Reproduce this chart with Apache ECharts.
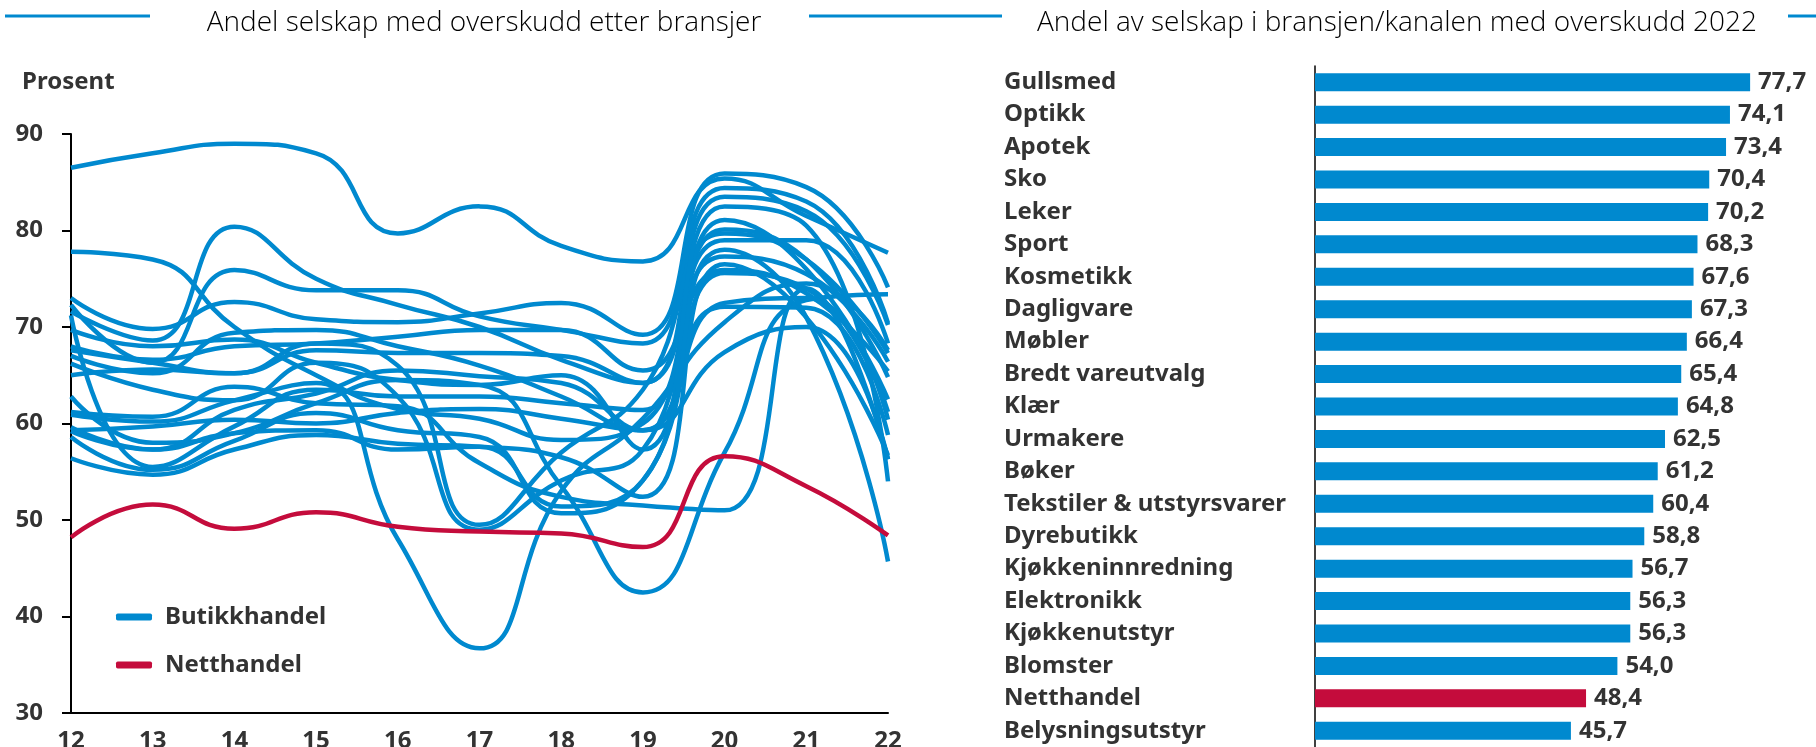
<!DOCTYPE html>
<html>
<head>
<meta charset="utf-8">
<script src="https://cdn.jsdelivr.net/npm/echarts@6/dist/echarts.min.js"></script>
<style>
  html, body { margin: 0; padding: 0; background: #fff; }
  #chart-container { width: 1816px; height: 747px; }
</style>
</head>
<body>
<div id="chart-container"></div>
<script>
// år (x-akse venstre figur)
var years = ['12', '13', '14', '15', '16', '17', '18', '19', '20', '21', '22'];

// andel selskap med overskudd, butikkhandel per bransje 2012-2022
var gullsmed = [86.5, 88.0, 89.0, 88.0, 79.7, 82.5, 78.4, 76.8, 85.4, 81.5, 77.7];
var optikk = [73.0, 69.8, 72.6, 70.8, 70.5, 71.4, 72.5, 69.2, 85.9, 84.5, 74.1];
var apotek = [62.8, 58.0, 59.0, 62.1, 64.5, 64.0, 53.5, 42.5, 57.0, 72.8, 73.4];
var sko = [72.3, 66.3, 75.9, 73.8, 73.8, 71.1, 69.7, 68.3, 84.4, 83.0, 70.4];
var leker = [71.6, 68.6, 80.4, 75.0, 72.3, 70.0, 66.6, 64.2, 83.5, 82.0, 70.2];
var sport = [77.8, 77.0, 70.0, 65.0, 61.5, 60.5, 58.3, 60.0, 79.0, 79.0, 68.3];
var kosmetikk = [60.9, 60.2, 62.4, 64.2, 48.0, 36.7, 53.0, 60.5, 70.5, 74.5, 67.6];
var dagligvare = [67.6, 66.3, 65.2, 68.3, 66.0, 49.5, 57.0, 63.5, 79.7, 77.0, 67.3];
var mobler = [66.2, 63.5, 62.4, 66.3, 62.8, 49.0, 54.1, 57.3, 77.3, 75.5, 66.4];
var bredtVareutvalg = [68.0, 66.6, 68.0, 68.3, 69.0, 69.7, 69.7, 65.5, 75.9, 73.5, 65.4];
var klaer = [65.0, 65.6, 65.2, 67.6, 67.3, 67.3, 67.0, 64.2, 80.1, 77.0, 64.8];
var urmakere = [71.2, 55.5, 59.7, 63.5, 62.8, 62.8, 62.1, 61.4, 81.1, 76.0, 62.5];
var boker = [59.3, 59.7, 60.4, 60.0, 61.1, 61.5, 60.5, 59.3, 75.6, 74.0, 61.2];
var tekstiler = [59.6, 57.3, 61.4, 63.1, 65.5, 64.9, 64.2, 59.3, 72.5, 73.0, 60.4];
var dyrebutikk = [58.6, 55.2, 58.2, 61.1, 59.3, 58.6, 50.7, 54.1, 72.1, 72.0, 58.8];
var kjokkeninnredning = [56.4, 54.7, 57.3, 58.8, 57.9, 57.6, 56.5, 52.4, 76.5, 71.0, 56.7];
var elektronikk = [61.2, 60.7, 63.8, 62.1, 61.8, 55.9, 52.4, 51.5, 51.0, 74.0, 56.3];
var kjokkenutstyr = [67.0, 65.2, 69.4, 69.7, 68.0, 66.0, 62.8, 59.3, 67.4, 70.0, 56.3];
var blomster = [69.7, 68.0, 68.7, 66.3, 64.5, 64.0, 65.0, 57.3, 82.5, 80.5, 54.0];
var belysning = [59.2, 57.3, 59.0, 59.3, 57.3, 57.6, 51.4, 54.1, 78.0, 71.0, 45.7];

// netthandel
var netthandel = [48.2, 51.6, 49.1, 50.8, 49.3, 48.8, 48.6, 47.2, 56.6, 53.5, 48.4];

// høyre figur: 2022
var bransjer = ['Gullsmed', 'Optikk', 'Apotek', 'Sko', 'Leker', 'Sport', 'Kosmetikk',
  'Dagligvare', 'Møbler', 'Bredt vareutvalg', 'Klær', 'Urmakere', 'Bøker',
  'Tekstiler & utstyrsvarer', 'Dyrebutikk', 'Kjøkkeninnredning', 'Elektronikk',
  'Kjøkkenutstyr', 'Blomster', 'Netthandel', 'Belysningsutstyr'];
var andel2022 = [77.7, 74.1, 73.4, 70.4, 70.2, 68.3, 67.6, 67.3, 66.4, 65.4, 64.8,
  62.5, 61.2, 60.4, 58.8, 56.7, 56.3, 56.3, 54.0, 48.4, 45.7];

var yTicks = [30, 40, 50, 60, 70, 80, 90];

var blue = '#0089CF';
var red = '#C40C3C';
var textCol = '#333333';
var font = 'Noto Sans';

var butikk = [gullsmed, optikk, apotek, sko, leker, sport, kosmetikk, dagligvare,
  mobler, bredtVareutvalg, klaer, urmakere, boker, tekstiler, dyrebutikk,
  kjokkeninnredning, elektronikk, kjokkenutstyr, blomster, belysning];

var dom = document.getElementById('chart-container');
var myChart = echarts.init(dom, null, { renderer: 'canvas' });

var series = butikk.map(function (d) {
  return {
    name: 'Butikkhandel',
    type: 'line',
    xAxisIndex: 0,
    yAxisIndex: 0,
    data: d,
    smooth: true,
    symbol: 'none',
    lineStyle: { color: blue, width: 4.5 },
    itemStyle: { color: blue },
    silent: true
  };
});
series.push({
  name: 'Netthandel',
  type: 'line',
  xAxisIndex: 0,
  yAxisIndex: 0,
  data: netthandel,
  smooth: true,
  symbol: 'none',
  lineStyle: { color: red, width: 4.5 },
  itemStyle: { color: red },
  silent: true
});
series.push({
  type: 'bar',
  xAxisIndex: 1,
  yAxisIndex: 1,
  barWidth: 18,
  data: andel2022.map(function (v, i) {
    return {
      value: v,
      itemStyle: { color: bransjer[i] === 'Netthandel' ? red : blue }
    };
  }),
  label: {
    show: true,
    position: 'right',
    distance: 8,
    color: textCol,
    fontFamily: font,
    fontWeight: 'bold',
    fontSize: 24,
    formatter: function (p) { return p.value.toFixed(1).replace('.', ','); }
  },
  silent: true
});

var option = {
  animation: false,
  backgroundColor: '#fff',
  title: [
    {
      text: 'Andel selskap med overskudd etter bransjer',
      left: 479, top: 4, textAlign: 'center',
      textStyle: { fontFamily: 'Open Sans', fontWeight: 300, fontSize: 28, color: '#000' }
    },
    {
      text: 'Andel av selskap i bransjen/kanalen med overskudd 2022',
      left: 1392, top: 4, textAlign: 'center',
      textStyle: { fontFamily: 'Open Sans', fontWeight: 300, fontSize: 28, color: '#000' }
    }
  ],
  graphic: [
    { type: 'line', shape: { x1: 5, y1: 16, x2: 150, y2: 16 }, style: { stroke: blue, lineWidth: 3 } },
    { type: 'line', shape: { x1: 809, y1: 16, x2: 1002, y2: 16 }, style: { stroke: blue, lineWidth: 3 } },
    { type: 'line', shape: { x1: 1788, y1: 16, x2: 1816, y2: 16 }, style: { stroke: blue, lineWidth: 3 } }
  ],
  legend: {
    data: ['Butikkhandel', 'Netthandel'],
    orient: 'vertical',
    left: 116,
    top: 604,
    padding: 0,
    icon: 'roundRect',
    itemWidth: 36,
    itemHeight: 7,
    itemGap: 22,
    selectedMode: false,
    textStyle: {
      fontFamily: font, fontWeight: 'bold', fontSize: 24, color: textCol,
      lineHeight: 26, padding: [0, 0, 0, 8]
    }
  },
  grid: [
    { left: 71, right: 928, top: 134, bottom: 34, outerBoundsMode: 'none' },
    { left: 1315, right: 25, top: 66, bottom: 0, outerBoundsMode: 'none' }
  ],
  xAxis: [
    {
      gridIndex: 0,
      type: 'category',
      data: years,
      boundaryGap: false,
      axisLine: { lineStyle: { color: '#000', width: 2 } },
      axisTick: { show: false },
      axisLabel: { color: textCol, fontFamily: font, fontWeight: 'bold', fontSize: 24, margin: 16 },
      splitLine: { show: false }
    },
    {
      gridIndex: 1,
      type: 'value',
      min: 0,
      max: 85,
      show: false,
      splitLine: { show: false }
    }
  ],
  yAxis: [
    {
      gridIndex: 0,
      type: 'value',
      min: yTicks[0],
      max: yTicks[yTicks.length - 1],
      interval: 10,
      name: 'Prosent',
      nameLocation: 'end',
      nameGap: 40,
      nameTextStyle: {
        fontFamily: font, fontWeight: 'bold', fontSize: 24, color: textCol,
        align: 'left', padding: [0, 0, 0, -49]
      },
      axisLine: { show: true, lineStyle: { color: '#000', width: 2 } },
      axisTick: { show: true, length: 9, lineStyle: { color: '#000', width: 2 } },
      axisLabel: { color: textCol, fontFamily: font, fontWeight: 'bold', fontSize: 24, margin: 28 },
      splitLine: { show: false }
    },
    {
      gridIndex: 1,
      type: 'category',
      data: bransjer,
      inverse: true,
      axisLine: { show: true, lineStyle: { color: '#000', width: 1.5 } },
      axisTick: { show: false },
      axisLabel: {
        color: textCol, fontFamily: font, fontWeight: 'bold', fontSize: 24,
        align: 'left', margin: 311
      }
    }
  ],
  series: series
};

myChart.setOption(option);
window.addEventListener('resize', myChart.resize);
</script>
</body>
</html>
